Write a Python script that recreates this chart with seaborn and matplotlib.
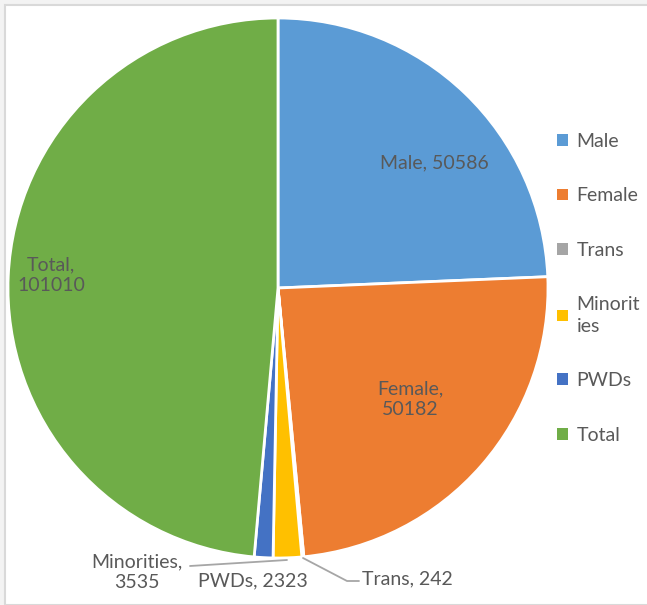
import matplotlib
matplotlib.use("Agg")
import matplotlib.pyplot as plt
import matplotlib.patches as mpatches
import numpy as np
import seaborn as sns

# data
categories = ["Male", "Female", "Trans", "Minorities", "PWDs", "Total"]
values = [50586, 50182, 242, 3535, 2323, 101010]
legend_labels = ["Male", "Female", "Trans", "Minorit\nies", "PWDs", "Total"]
colors = ["#5B9BD5", "#ED7D31", "#A5A5A5", "#FFC000", "#4472C4", "#70AD47"]

sns.set_theme(style="white")
plt.rcParams['font.family'] = ['Lato', 'DejaVu Sans']
txt_col = "#595959"

W, H = 647, 605
fig = plt.figure(figsize=(W / 100, H / 100), dpi=100)
fig.patch.set_facecolor("#F3F3F3")

# chart area with light border
fig.patches.append(mpatches.Rectangle((5 / W, 0), 1, 1 - 5 / H, transform=fig.transFigure,
                                      facecolor="white", edgecolor="#D9D9D9", lw=1.5, zorder=-5))

# pie axes: centre (278, 288) px, radius 270 px
cx, cy, r = 278, 288, 270
ax = fig.add_axes([(cx - r) / W, (H - cy - r) / H, 2 * r / W, 2 * r / H])
ax.axis("off")
ax.set_zorder(2)

wedges, _ = ax.pie(values, colors=colors, startangle=90, counterclock=False,
                   radius=1, wedgeprops=dict(edgecolor="white", linewidth=2))
ax.set_xlim(-1, 1)
ax.set_ylim(-1, 1)


def px(x, y):
    return ((x - cx) / r, (cy - y) / r)


fs = 14
# labels inside slices
ax.text(*px(434, 163), f"{categories[0]}, {values[0]}", ha="center", va="center",
        fontsize=fs, color=txt_col)
ax.text(*px(410, 399), f"{categories[1]},\n{values[1]}", ha="center", va="center",
        fontsize=fs, color=txt_col, linespacing=1.3)
ax.text(*px(51, 275), f"{categories[5]},\n{values[5]}", ha="center", va="center",
        fontsize=fs, color=txt_col, linespacing=1.3)

# labels outside with leader lines
ax.text(*px(137, 572), f"{categories[3]},\n{values[3]}", ha="center", va="center",
        fontsize=fs, color=txt_col, linespacing=1.3, clip_on=False)
ax.text(*px(253, 581), f"{categories[4]}, {values[4]}", ha="center", va="center",
        fontsize=fs, color=txt_col, clip_on=False)
ax.text(*px(362, 579), f"{categories[2]}, {values[2]}", ha="left", va="center",
        fontsize=fs, color=txt_col, clip_on=False)

lc = "#A6A6A6"
x1, y1 = px(190, 566)
x2, y2 = px(287, 560)
ax.plot([x1, x2], [y1, y2], color=lc, lw=1.3, clip_on=False)
p = [px(303, 558), px(347, 581), px(359, 581)]
ax.plot([q[0] for q in p], [q[1] for q in p], color=lc, lw=1.3, clip_on=False)

leg = fig.legend(wedges, legend_labels, loc="upper left",
                 bbox_to_anchor=(557 / W, 1 - 133 / H), frameon=False, borderpad=0,
                 borderaxespad=0, fontsize=fs, labelcolor=txt_col,
                 handlelength=0.55, handleheight=0.55,
                 handletextpad=0.45, labelspacing=1.92)
for h in leg.legend_handles:
    h.set_edgecolor("none")
for t in leg.get_texts():
    t.set_linespacing(1.35)

fig.savefig("out.png", dpi=100, facecolor=fig.get_facecolor())
